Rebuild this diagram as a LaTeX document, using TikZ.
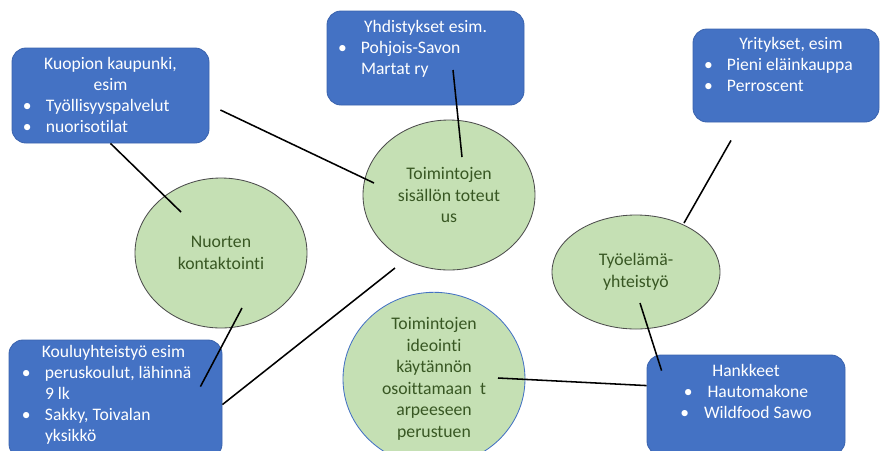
\documentclass[tikz,border=0pt]{standalone}
\usepackage{fontspec}
\setmainfont{Carlito}[Ligatures=NoCommon]
\usepackage{tikz}
\usetikzlibrary{shapes.geometric,positioning}

\definecolor{boxblue}{HTML}{4472C4}
\definecolor{boxedge}{HTML}{3A63AE}
\definecolor{ovalfill}{HTML}{C5E0B4}
\definecolor{ovaltext}{HTML}{385723}
\definecolor{ovaledge}{HTML}{4D4D4D}

\newlength\px
\setlength\px{0.025cm}
\newcommand\boxfont{\fontsize{12.5}{14.9}\selectfont}
\newcommand\ovalfont{\fontsize{12.6}{15.3}\selectfont}
\newcommand\itm{\par\noindent\hangindent=24\px\hangafter=1\makebox[24\px][l]{\hspace{1\px}\textbullet}}
\newcommand\boxtext[4]{\parbox[c][#1\px][t]{#2\px}{\vspace*{#3\px}\leavevmode\strut#4}}

\tikzset{
	bluebox/.style={draw=boxedge, line width=0.6pt, fill=boxblue, rounded corners=14\px, text=white, font=\boxfont, inner xsep=10\px, inner ysep=0pt},
	oval/.style={ellipse, draw=ovaledge, line width=0.6pt, fill=ovalfill, text=ovaltext, font=\ovalfont, align=center, inner sep=0pt},
	link/.style={line width=1.1pt}
}

\begin{document}
\begin{tikzpicture}[x=0.025cm,y=-0.025cm]
			\useasboundingbox (0,0) rectangle (882,450);
			% kumppanit
			\node[bluebox] (kuopio) at (110.5,95.5) {\boxtext{95}{177}{7}{{\centering Kuopion kaupunki,\\esim\par}\itm Työllisyyspalvelut\itm nuorisotilat}};
			\node[bluebox] (yhd) at (425.5,58) {\boxtext{94}{177}{7}{{\centering Yhdistykset esim.\par}\itm Pohjois-Savon\\Martat ry}};
			\node[bluebox] (yrit) at (786,75.5) {\boxtext{93}{166}{6}{{\centering\hspace*{10\px}Yritykset, esim\par}\itm Pieni eläinkauppa\itm Perroscent}};
			\node[bluebox, inner xsep=12\px] (koulu) at (115.5,399) {\boxtext{118}{189}{3}{{\centering\hspace*{-4\px}Kouluyhteistyö esim\par}\itm peruskoulut, lähinnä\\9 lk\itm Sakky, Toivalan\\yksikkö}};
			\node[bluebox] (hank) at (746,405) {\boxtext{100}{178}{7}{{\centering Hankkeet\\\textbullet\hspace{15\px}Hautomakone\\\textbullet\hspace{15\px}Wildfood Sawo\par}}};
			% toiminnot
			\node[oval, minimum width=172\px, minimum height=150\px] (nuorten) at (221,253) {Nuorten\\kontaktointi};
			\node[oval, minimum width=172\px, minimum height=150\px] (sisallon) at (449,195) {Toimintojen\\sisällön toteut\\us};
			\node[oval, minimum width=168\px, minimum height=114\px] (tyo) at (636,272) {Työelämä-\\yhteistyö};
			\node[oval, draw=boxblue, minimum width=182\px, minimum height=138\px] (ideo) at (434,379) {Toimintojen\\ideointi\\käytännön\\osoittamaan\ \ t\\arpeeseen\\perustuen};
			% viivat
			\draw[link] (kuopio.south) -- ([shift={(-40,-41)}]nuorten.center);
			\draw[link] ([shift={(11,14.5)}]kuopio.east) -- ([shift={(-75,-12)}]sisallon.center);
			\draw[link] ([shift={(27.5,12)}]yhd.center) -- ([shift={(13,-38)}]sisallon.center);
			\draw[link] ([shift={(-55,18)}]yrit.south) -- ([shift={(48,-49)}]tyo.center);
			\draw[link] ([shift={(4,31)}]tyo.center) -- ([shift={(15,16)}]hank.north west);
			\draw[link] ([shift={(64,-1)}]ideo.center) -- ([shift={(0,31)}]hank.north west);
			\draw[link] ([shift={(21,55)}]nuorten.center) -- ([shift={(-22,47)}]koulu.north east);
			\draw[link] ([shift={(0,65)}]koulu.north east) -- ([shift={(-54,73)}]sisallon.center);
\end{tikzpicture}
\end{document}
